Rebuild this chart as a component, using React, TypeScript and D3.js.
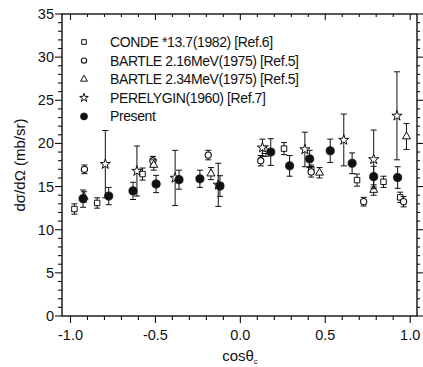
import React from "react";
import * as d3 from "d3";

// [cosθ, value, error]
const condeX = [-0.977, -0.843, -0.576, 0.257, 0.417, 0.687, 0.843, 0.941];
const condeY = [12.4, 13.1, 16.45, 19.4, 17.0, 15.75, 15.55, 13.75];
const condeE = [0.6, 0.6, 0.7, 0.7, 0.5, 0.7, 0.65, 0.6];

const bartle216X = [-0.918, -0.515, -0.189, 0.12, 0.417, 0.726, 0.961];
const bartle216Y = [17.0, 18.0, 18.65, 18.0, 16.7, 13.25, 13.25];
const bartle216E = [0.5, 0.5, 0.55, 0.6, 0.6, 0.5, 0.6];

const bartle234X = [-0.92, -0.51, -0.173, 0.15, 0.466, 0.785, 0.978];
const bartle234Y = [13.8, 17.5, 16.5, 19.1, 16.6, 14.6, 20.8];
const bartle234E = [0.6, 0.6, 0.7, 0.6, 0.6, 0.6, 1.5];

const perelyginX = [-0.795, -0.609, -0.384, -0.13, 0.13, 0.38, 0.609, 0.785, 0.922];
const perelyginY = [17.6, 16.8, 16.0, 15.2, 19.5, 19.3, 20.4, 18.15, 23.2];
const perelyginE = [3.9, 2.9, 3.2, 2.5, 1.0, 2.0, 3.0, 3.4, 5.1];

const presentX = [-0.926, -0.775, -0.632, -0.496, -0.361, -0.238, -0.12, 0.179, 0.29, 0.408, 0.529, 0.658, 0.785, 0.926];
const presentY = [13.6, 13.9, 14.5, 15.3, 15.8, 15.9, 15.06, 19.0, 17.4, 18.2, 19.15, 17.7, 16.15, 16.05];
const presentE = [1.0, 1.0, 1.0, 1.0, 1.1, 1.0, 1.2, 1.55, 1.2, 1.0, 1.35, 1.2, 1.2, 1.25];

const legendLabels = [
  "CONDE  *13.7(1982) [Ref.6]",
  "BARTLE 2.16MeV(1975) [Ref.5]",
  "BARTLE 2.34MeV(1975) [Ref.5]",
  "PERELYGIN(1960) [Ref.7]",
  "Present",
];

const xTicks = [-1.0, -0.5, 0.0, 0.5, 1.0];
const yTicks = [0, 5, 10, 15, 20, 25, 30, 35];

const FONT = "'Liberation Sans', Arial, sans-serif";

type Kind = "square" | "circle" | "triangle" | "star" | "filled";

function Marker({ kind, x, y, scale = 1 }: { kind: Kind; x: number; y: number; scale?: number }) {
  const stroke = "#111";
  if (kind === "circle") return <circle cx={x} cy={y} r={3.1 * scale} fill="white" stroke={stroke} strokeWidth={1.1} />;
  if (kind === "filled") return <circle cx={x} cy={y} r={4.1 * scale} fill="#111" stroke={stroke} strokeWidth={0.8} />;
  const sym =
    kind === "square" ? d3.symbolSquare : kind === "triangle" ? d3.symbolTriangle : d3.symbolStar;
  const size = (kind === "square" ? 30 : kind === "triangle" ? 28 : 32) * scale * scale;
  const p = d3.symbol().type(sym).size(size)();
  return <path d={p || ""} transform={`translate(${x},${y})`} fill="white" stroke={stroke} strokeWidth={1} />;
}

export default function App() {
  const W = 423, H = 367;
  const x = d3.scaleLinear().domain([-1.05, 1.04]).range([62, 417]);
  const y = d3.scaleLinear().domain([0, 35]).range([316, 14]);
  const x0 = 62, x1 = 417, y0 = 316, y1 = 14;

  const series: { kind: Kind; xs: number[]; ys: number[]; es: number[] }[] = [
    { kind: "square", xs: condeX, ys: condeY, es: condeE },
    { kind: "circle", xs: bartle216X, ys: bartle216Y, es: bartle216E },
    { kind: "triangle", xs: bartle234X, ys: bartle234Y, es: bartle234E },
    { kind: "star", xs: perelyginX, ys: perelyginY, es: perelyginE },
    { kind: "filled", xs: presentX, ys: presentY, es: presentE },
  ];
  const legendKinds: Kind[] = ["square", "circle", "triangle", "star", "filled"];

  const xMinor = d3.range(-10, 11).map((i) => i / 10);
  const yMinor = d3.range(0, 36);

  return (
    <svg width={W} height={H} style={{ position: "absolute", left: 0, top: 0, background: "white" }}>
      <rect width={W} height={H} fill="white" />
      {/* frame */}
      <rect x={x0} y={y1} width={x1 - x0} height={y0 - y1} fill="none" stroke="#111" strokeWidth={1.4} />
      {/* bottom ticks (outward) and top ticks (inward) */}
      {xMinor.map((t, i) => {
        const major = Math.abs(t * 2 - Math.round(t * 2)) < 1e-6;
        return (
          <g key={"xt" + i} stroke="#111" strokeWidth={1.1}>
            <line x1={x(t)} x2={x(t)} y1={y0} y2={y0 + (major ? 7 : 4)} />
            <line x1={x(t)} x2={x(t)} y1={y1} y2={y1 + (major ? 6 : 3)} />
          </g>
        );
      })}
      {/* left ticks (outward) and right ticks (outward) */}
      {yMinor.map((t) => {
        const major = t % 5 === 0;
        return (
          <g key={"yt" + t} stroke="#111" strokeWidth={1.1}>
            <line x1={x0} x2={x0 - (major ? 7 : 4)} y1={y(t)} y2={y(t)} />
            <line x1={x1} x2={x1 + (major ? 6 : 3)} y1={y(t)} y2={y(t)} />
          </g>
        );
      })}
      {xTicks.map((t) => (
        <text key={"xl" + t} x={x(t)} y={340} textAnchor="middle" fontFamily={FONT} fontSize={14.5} fill="#111">
          {t.toFixed(1)}
        </text>
      ))}
      {yTicks.map((t) => (
        <text key={"yl" + t} x={54} y={y(t) + 5} textAnchor="end" fontFamily={FONT} fontSize={14.5} fill="#111">
          {t}
        </text>
      ))}
      <text x={240} y={361} textAnchor="middle" fontFamily={FONT} fontSize={15} fill="#111">
        cosθ<tspan fontSize={8} dy={3}>c</tspan>
      </text>
      <text
        transform={`translate(25,${(y0 + y1) / 2}) rotate(-90)`}
        textAnchor="middle"
        fontFamily={FONT}
        fontSize={15}
        fill="#111"
      >
        dσ/dΩ (mb/sr)
      </text>

      {/* legend */}
      {legendLabels.map((lab, i) => {
        const ly = 42 + i * 18.6;
        return (
          <g key={"lg" + i}>
            <Marker kind={legendKinds[i]} x={84} y={ly} scale={0.85} />
            <text x={110} y={ly + 5} fontFamily={FONT} fontSize={14} letterSpacing={-0.4} fill="#111">
              {lab}
            </text>
          </g>
        );
      })}

      {/* data */}
      {series.map((s, si) => (
        <g key={"s" + si}>
          {s.xs.map((cx, i) => {
            const px = x(cx);
            const top = y(s.ys[i] + s.es[i]);
            const bot = y(s.ys[i] - s.es[i]);
            return (
              <g key={i} stroke="#111" strokeWidth={1}>
                <line x1={px} x2={px} y1={top} y2={bot} />
                <line x1={px - 3} x2={px + 3} y1={top} y2={top} />
                <line x1={px - 3} x2={px + 3} y1={bot} y2={bot} />
              </g>
            );
          })}
          {s.xs.map((cx, i) => (
            <Marker key={"m" + i} kind={s.kind} x={x(cx)} y={y(s.ys[i])} />
          ))}
        </g>
      ))}
    </svg>
  );
}
